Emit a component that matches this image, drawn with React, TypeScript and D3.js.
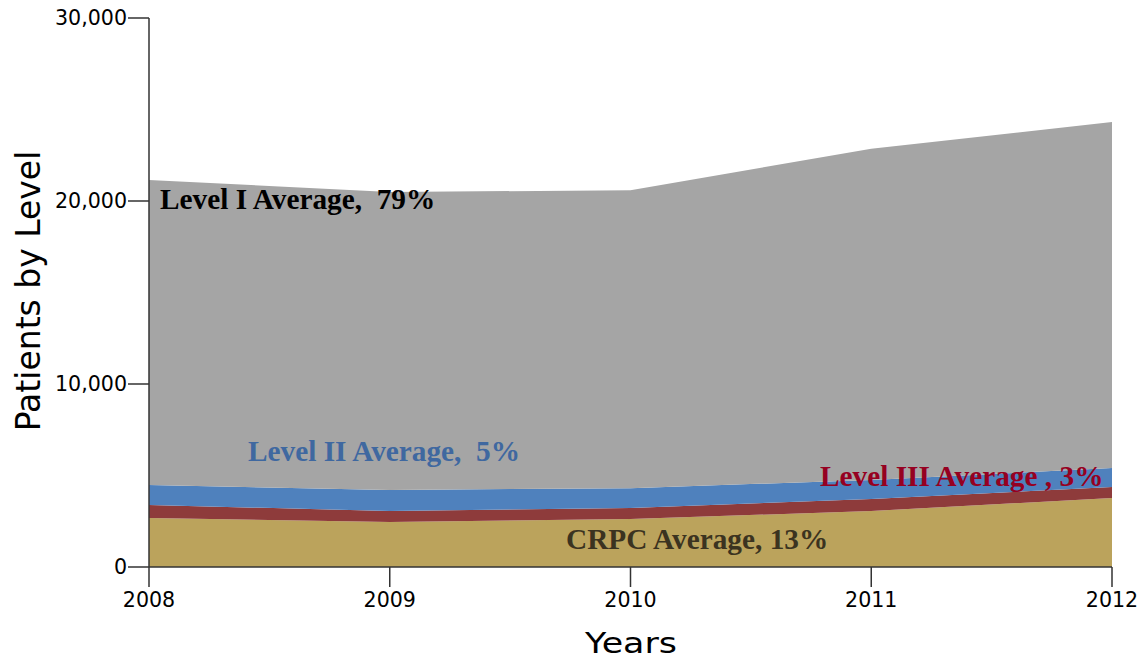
import React from "react";
import * as d3 from "d3";

const years = [2008, 2009, 2010, 2011, 2012];
const crpc = [2680, 2460, 2620, 3060, 3770];
const level3 = [710, 600, 600, 660, 600];
const level2 = [1090, 1150, 1090, 1040, 1040];
const level1 = [16670, 16280, 16280, 18090, 18910];
const yTicks = [0, 10000, 20000, 30000];
const seriesKeys = ["crpc", "level3", "level2", "level1"];
const seriesColors: Record<string, string> = {
  crpc: "#bba35c",
  level3: "#8e3b3b",
  level2: "#4f81bd",
  level1: "#a5a5a5",
};
const labels = [
  { text: "Level I Average,  79%", x: 160, y: 209, color: "#000000" },
  { text: "Level II Average,  5%", x: 248, y: 461, color: "#3f68a0" },
  { text: "Level III Average , 3%", x: 820, y: 486, color: "#960021" },
  { text: "CRPC Average, 13%", x: 566, y: 549, color: "#3b3320" },
];

export default function App() {
  const W = 1147, H = 663;
  const x = d3.scaleLinear().domain([2008, 2012]).range([149, 1112]);
  const y = d3.scaleLinear().domain([0, 30000]).range([567, 18]);
  const rows = years.map((yr, i) => ({
    year: yr,
    crpc: crpc[i],
    level3: level3[i],
    level2: level2[i],
    level1: level1[i],
  }));
  const stacked = d3.stack<any>().keys(seriesKeys)(rows);
  const area = d3
    .area<any>()
    .x((d) => x(d.data.year))
    .y0((d) => y(d[0]))
    .y1((d) => y(d[1]));
  const tickFont = "'DejaVu Sans', Verdana, sans-serif";
  return (
    <svg
      width={W}
      height={H}
      style={{ position: "absolute", left: 0, top: 0, display: "block" }}
    >
      {stacked.map((s) => (
        <path key={s.key} d={area(s) || ""} fill={seriesColors[s.key]} stroke="none" />
      ))}
      {/* y axis */}
      <line x1={x(2008)} x2={x(2008)} y1={y(30000)} y2={y(0)} stroke="#333" strokeWidth={1.5} />
      {yTicks.map((t) => (
        <g key={t}>
          <line x1={x(2008) - 21} x2={x(2008)} y1={y(t)} y2={y(t)} stroke="#333" strokeWidth={1.5} />
          <text
            x={x(2008) - 22}
            y={y(t)}
            dy="0.35em"
            textAnchor="end"
            fontFamily={tickFont}
            fontSize={20.6}
            fill="#000"
          >
            {d3.format(",")(t)}
          </text>
        </g>
      ))}
      {/* x axis */}
      <line x1={x(2008)} x2={x(2012)} y1={y(0)} y2={y(0)} stroke="#333" strokeWidth={1.5} />
      {years.map((yr) => (
        <g key={yr}>
          <line x1={x(yr)} x2={x(yr)} y1={y(0)} y2={y(0) + 20} stroke="#333" strokeWidth={1.5} />
          <text
            x={x(yr)}
            y={y(0) + 40}
            textAnchor="middle"
            fontFamily={tickFont}
            fontSize={20.6}
            fill="#000"
          >
            {yr}
          </text>
        </g>
      ))}
      <text
        x={585}
        y={653}
        fontFamily={tickFont}
        fontSize={28.5}
        textLength={92}
        lengthAdjust="spacingAndGlyphs"
        fill="#000"
      >
        Years
      </text>
      <text
        transform="translate(40,291) rotate(-90)"
        textAnchor="middle"
        fontFamily={tickFont}
        fontSize={33}
        fill="#000"
      >
        Patients by Level
      </text>
      {labels.map((l) => (
        <text
          key={l.text}
          x={l.x}
          y={l.y}
          fontFamily="'Liberation Serif', 'Times New Roman', serif"
          fontWeight="bold"
          fontSize={29.3}
          fill={l.color}
          style={{ whiteSpace: "pre" }}
        >
          {l.text}
        </text>
      ))}
    </svg>
  );
}
